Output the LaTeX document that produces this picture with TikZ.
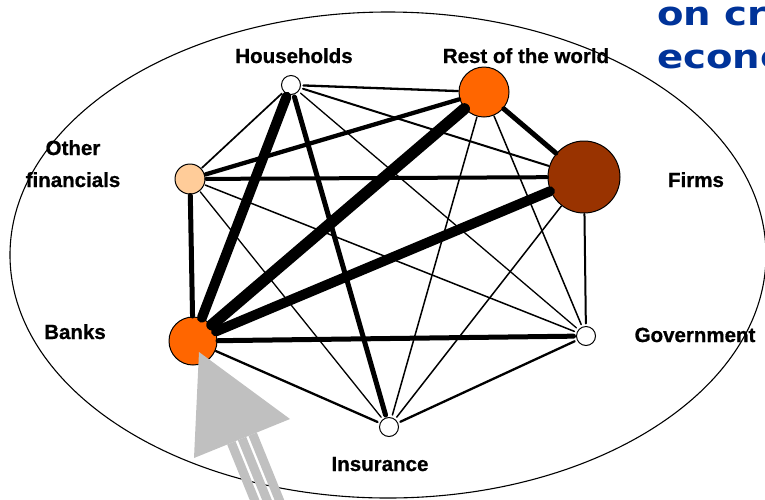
\documentclass[tikz,border=0pt]{standalone}
\usepackage{fontspec}
\setmainfont{Liberation Sans}
\newfontfamily\lblfont{Liberation Sans}[BoldFeatures={FakeBold=0.8}]
\newfontfamily\dejavu{DejaVu Sans}
\usetikzlibrary{calc}
\definecolor{orangeA}{HTML}{FF6600}
\definecolor{brownA}{HTML}{993300}
\definecolor{peachA}{HTML}{FFCC99}
\definecolor{blueA}{HTML}{003399}
\definecolor{grayA}{HTML}{C0C0C0}
\begin{document}
\begin{tikzpicture}[x=1pt,y=-1pt,
  sector/.style={circle, draw=black, line width=1pt, inner sep=0pt},
  lbl/.style={font=\lblfont\fontsize{20.5}{22}\selectfont\bfseries, anchor=base, inner sep=0pt},
  bluetxt/.style={font=\dejavu\bfseries\fontsize{33}{36}\selectfont, text=blueA, anchor=base west, inner sep=0pt},
  link/.style={line width=#1, line cap=round},
  stripe/.style={grayA, line width=9pt, line cap=butt}]
\useasboundingbox (0,0) rectangle (765,499);
\fill[white] (0,0) rectangle (765,499);

% enclosing ellipse
\draw[line width=1.1pt] (388,255) ellipse [x radius=378pt, y radius=243pt];

% blue title fragments (cut off at the right edge, as in the reference)
\node[bluetxt] (title1) at (657,25) {\scalebox{1.17}[1]{on cre}};
\node[bluetxt] (title2) at (657,68) {\scalebox{1.17}[1]{econo}};

% sectors
\node[sector, fill=white,   minimum size=19pt, outer sep=3pt] (H) at (291,85) {};
\node[sector, fill=orangeA, minimum size=50pt, outer sep=1pt] (R) at (484,92) {};
\node[sector, fill=brownA,  minimum size=72pt, outer sep=1pt] (F) at (584,177) {};
\node[sector, fill=white,   minimum size=19pt, outer sep=3pt] (G) at (586,336) {};
\node[sector, fill=white,   minimum size=19pt, outer sep=3pt] (I) at (389,427) {};
\node[sector, fill=orangeA, minimum size=48pt, outer sep=1pt] (B) at (193,341) {};
\node[sector, fill=peachA,  minimum size=30pt, outer sep=1.5pt] (O) at (190,179) {};

% labels
\node[lbl] (lH)  at (294,63)  {Households};
\node[lbl] (lR)  at (526,63)  {Rest of the world};
\node[lbl] (lO1) at (73,155)  {Other};
\node[lbl] (lO2) at (73,187)  {financials};
\node[lbl] (lF)  at (696,187) {Firms};
\node[lbl] (lB)  at (75,339)  {Banks};
\node[lbl] (lG)  at (695,342) {Government};
\node[lbl] (lI)  at (380,471) {Insurance};

% links
\draw[link=2.3pt]  (H) -- (R);
\draw[link=2pt]    (H) -- (F);
\draw[link=1.3pt]  (H) -- (G);
\draw[link=5pt]    (H) -- (I);
\draw[link=10pt]   (H) -- (B);
\draw[link=1.7pt]  (H) -- (O);
\draw[link=4.3pt]  (R) -- (O);
\draw[link=11.5pt] (R) -- (B);
\draw[link=5pt]    (R) -- (F);
\draw[link=1.5pt]  (R) -- (G);
\draw[link=1.5pt]  (R) -- (I);
\draw[link=4pt]    (F) -- (O);
\draw[link=10pt]   (F) -- (B);
\draw[link=2pt]    (F) -- (G);
\draw[link=1.5pt]  (F) -- (I);
\draw[link=5pt]    (G) -- (B);
\draw[link=1.5pt]  (G) -- (O);
\draw[link=2.3pt]  (G) -- (I);
\draw[link=2.3pt]  (I) -- (B);
\draw[link=1.3pt]  (I) -- (O);
\draw[link=5pt]    (B) -- (O);

% big grey arrow pointing at Banks
\coordinate (tip) at (199,352);
\coordinate (baseL) at (194,458);
\coordinate (baseR) at (290,419);
\coordinate (M) at ($(baseL)!0.5!(baseR)$);
\foreach \o in {-11.5,0,11.5}{
  \draw[stripe] ($(M)+(0.926*\o,-0.376*\o)$) -- ++(37.6,92.6);
}
\fill[grayA] (tip) -- (baseL) -- (baseR) -- cycle;
\end{tikzpicture}
\end{document}
